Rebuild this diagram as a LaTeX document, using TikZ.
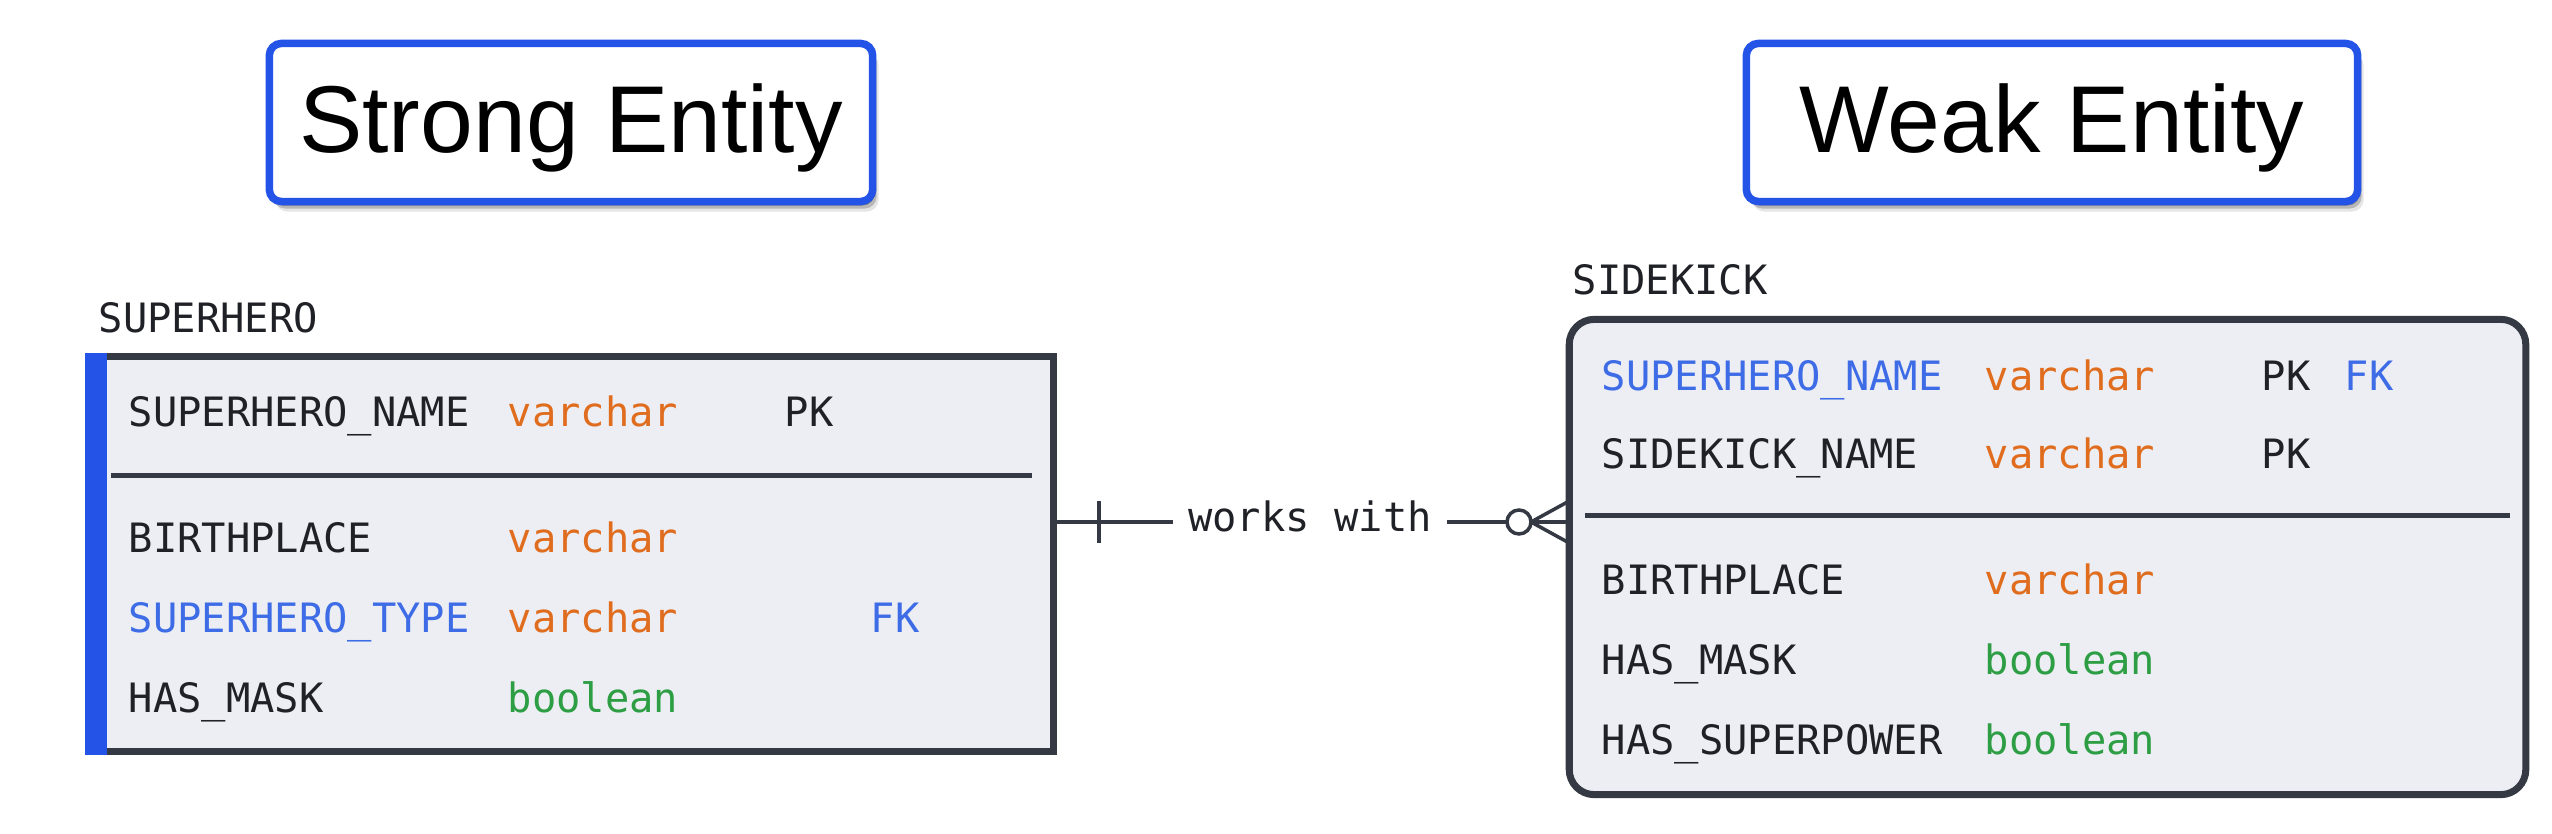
\documentclass[tikz,border=0pt]{standalone}
\usepackage{fontspec}
\setmainfont{Liberation Sans}
\newfontfamily\monof{DejaVu Sans Mono}
\usetikzlibrary{shadows,calc}
\definecolor{tblue}{HTML}{2453E8}
\definecolor{tdark}{HTML}{343944}
\definecolor{tfill}{HTML}{ECEEF3}
\definecolor{ttext}{HTML}{1F2126}
\definecolor{torange}{HTML}{E06C1E}
\definecolor{tgreen}{HTML}{2E9E45}
\definecolor{tfield}{HTML}{3D6CE6}
\begin{document}
\begin{tikzpicture}[x=0.01cm,y=-0.01cm,
  titlebox/.style={draw=tblue, line width=0.075cm, rounded corners=0.12cm, fill=white,
    font=\fontsize{27pt}{32pt}\selectfont, inner sep=0pt, text height=0.69cm, text depth=0.1cm,
    drop shadow={shadow xshift=0.02cm, shadow yshift=-0.04cm, fill=black, opacity=0.28},
    drop shadow={shadow xshift=0.04cm, shadow yshift=-0.07cm, fill=black, opacity=0.2},
    drop shadow={shadow xshift=0.06cm, shadow yshift=-0.10cm, fill=black, opacity=0.1}},
  tbl/.style={draw=tdark, line width=0.07cm, fill=tfill, inner sep=0pt, outer sep=0pt},
  sepline/.style={draw=tdark, line width=0.05cm},
  mono/.style={anchor=base west, inner sep=0pt, font=\monof\fontsize{11.5pt}{13pt}\selectfont},
  fld/.style={mono, text=ttext},
  kfld/.style={mono, text=tfield},
  vtype/.style={mono, text=torange},
  btype/.style={mono, text=tgreen},
  conn/.style={draw=tdark, line width=0.035cm},
]
\fill[white] (0,0) rectangle (2552,834);
\useasboundingbox (0,0) rectangle (2552,834);

% titles
\node[titlebox, minimum width=6.03cm, minimum height=1.58cm] (st) at (571,122.5) {Strong Entity};
\node[titlebox, minimum width=6.11cm, minimum height=1.58cm] (wt) at (2052,122.5) {Weak Entity};

% SUPERHERO table
\node[fld] (shlabel) at (98,332.6) {SUPERHERO};
\node[tbl, minimum width=9.53cm, minimum height=3.95cm] (sh) at (576.5,554) {};
\fill[tblue] ($(sh.north west)+(-15,-3.5)$) rectangle ($(sh.south west)+(7,3.5)$);
\draw[sepline] (111,476) -- (1032,476);
\node[fld]   (sh1n) at (128,426.6) {SUPERHERO\_NAME};
\node[vtype] (sh1t) at (507,426.6) {varchar};
\node[fld]   (sh1k) at (784,426.6) {PK};
\node[fld]   (sh2n) at (128,552.6) {BIRTHPLACE};
\node[vtype] (sh2t) at (507,552.6) {varchar};
\node[kfld]  (sh3n) at (128,632.6) {SUPERHERO\_TYPE};
\node[vtype] (sh3t) at (507,632.6) {varchar};
\node[kfld]  (sh3k) at (870,632.6) {FK};
\node[fld]   (sh4n) at (128,712.6) {HAS\_MASK};
\node[btype] (sh4t) at (507,712.6) {boolean};

% SIDEKICK table
\node[fld] (sklabel) at (1572,294.6) {SIDEKICK};
\node[tbl, rounded corners=0.25cm, minimum width=9.56cm, minimum height=4.75cm] (sk) at (2047.5,557) {};
\draw[sepline] (1585,516) -- (2510,516);
\node[kfld]  (sk1n) at (1601,390.6) {SUPERHERO\_NAME};
\node[vtype] (sk1t) at (1984,390.6) {varchar};
\node[fld]   (sk1k) at (2261,390.6) {PK};
\node[kfld]  (sk1f) at (2344,390.6) {FK};
\node[fld]   (sk2n) at (1601,468.6) {SIDEKICK\_NAME};
\node[vtype] (sk2t) at (1984,468.6) {varchar};
\node[fld]   (sk2k) at (2261,468.6) {PK};
\node[fld]   (sk3n) at (1601,594.6) {BIRTHPLACE};
\node[vtype] (sk3t) at (1984,594.6) {varchar};
\node[fld]   (sk4n) at (1601,674.6) {HAS\_MASK};
\node[btype] (sk4t) at (1984,674.6) {boolean};
\node[fld]   (sk5n) at (1601,754.6) {HAS\_SUPERPOWER};
\node[btype] (sk5t) at (1984,754.6) {boolean};

% relationship
\coordinate (lk) at (1310,522);
\node[mono, anchor=base, text=ttext, inner xsep=0.15cm] (wk) at (1310,532) {works with};
\draw[conn] (sh.east |- lk) -- (wk.west |- lk);
\draw[conn] (wk.east |- lk) -- (sk.west |- lk);
% one (tick)
\coordinate (tk) at (1099,522);
\draw[conn] ($(tk)+(0,-21)$) -- ($(tk)+(0,21)$);
% zero-or-many
\coordinate (cf) at (1531,522);
\draw[conn] (cf) -- ($(sk.west |- lk)+(0,-21)$);
\draw[conn] (cf) -- ($(sk.west |- lk)+(0,21)$);
\draw[conn, fill=white] (1519,522) circle (0.12cm);
\end{tikzpicture}
\end{document}
